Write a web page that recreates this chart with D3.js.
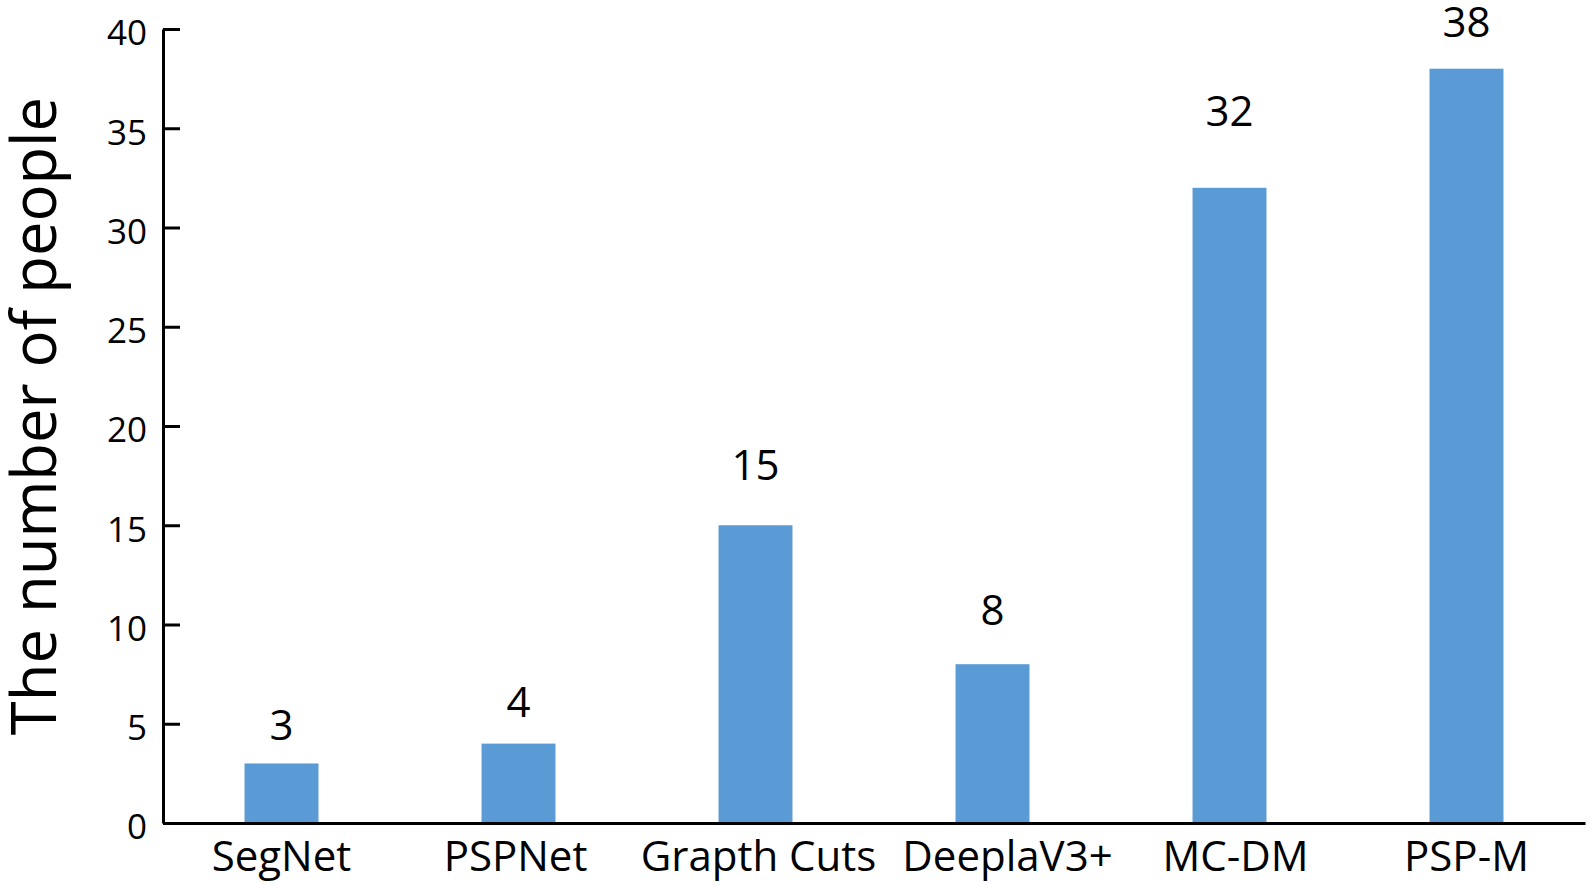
<!DOCTYPE html>
<html>
<head>
<meta charset="utf-8">
<script src="https://cdn.jsdelivr.net/npm/d3@7"></script>
<style>
  html, body { margin: 0; padding: 0; background: #fff; }
  svg { display: block; font-family: 'Open Sans', sans-serif; }
</style>
</head>
<body>
<div id="chart-area"></div>
<script>
// Data
const methods = ['SegNet', 'PSPNet', 'Grapth Cuts', 'DeeplaV3+', 'MC-DM', 'PSP-M'];
const people = [3, 4, 15, 8, 32, 38];
const yTicks = [0, 5, 10, 15, 20, 25, 30, 35, 40];

// value labels sit at uneven heights in the original
const labelGap = [23, 27, 45, 39, 62, 32];
// a couple of category names are a bit off-centre too
const nameShift = [0, -3, 3, 15, 6, 0];

const width = 1594;
const height = 885;
const margin = { top: 29, right: 9, bottom: 62, left: 163 };

const svg = d3.select('#chart-area')
  .append('svg')
  .attr('width', width)
  .attr('height', height);

// Scales
const xScale = d3.scaleBand()
  .domain(methods)
  .range([margin.left, width - margin.right])
  .paddingInner(0.688)
  .paddingOuter(0.344);

const yScale = d3.scaleLinear()
  .domain([0, 40])
  .range([height - margin.bottom, margin.top]);

// Bars
svg.append('g')
  .selectAll('rect')
  .data(people)
  .enter()
  .append('rect')
  .attr('x', (d, i) => xScale(methods[i]))
  .attr('y', (d) => yScale(d))
  .attr('width', xScale.bandwidth())
  .attr('height', (d) => yScale(0) - yScale(d))
  .attr('fill', '#5b9bd5');

// Value labels
svg.append('g')
  .selectAll('text')
  .data(people)
  .enter()
  .append('text')
  .attr('x', (d, i) => xScale(methods[i]) + xScale.bandwidth() / 2)
  .attr('y', (d, i) => yScale(d) - labelGap[i])
  .attr('text-anchor', 'middle')
  .attr('font-size', 42)
  .attr('fill', '#000')
  .text((d) => d);

// Y axis, ticks pointing inward
const yAxis = d3.axisLeft(yScale)
  .tickValues(yTicks)
  .tickSizeInner(-17)
  .tickSizeOuter(0)
  .tickPadding(16);

const gYAxis = svg.append('g')
  .attr('transform', `translate(${margin.left}, 0)`)
  .call(yAxis);

gYAxis.select('.domain').attr('stroke', '#000').attr('stroke-width', 3);
gYAxis.selectAll('.tick line').attr('stroke', '#000').attr('stroke-width', 3);
gYAxis.selectAll('.tick text')
  .attr('font-size', 35)
  .attr('font-family', 'Open Sans, sans-serif')
  .attr('fill', '#000')
  .attr('dy', '0.45em');

// X axis
const xAxis = d3.axisBottom(xScale)
  .tickSize(0)
  .tickPadding(18);

const gXAxis = svg.append('g')
  .attr('transform', `translate(0, ${yScale(0)})`)
  .call(xAxis);

gXAxis.select('.domain').attr('stroke', '#000').attr('stroke-width', 3);
gXAxis.selectAll('.tick text')
  .attr('font-size', 42)
  .attr('font-family', 'Open Sans, sans-serif')
  .attr('fill', '#000')
  .attr('x', (d, i) => nameShift[i]);

// Y label
svg.append('text')
  .attr('transform', 'rotate(-90)')
  .attr('x', -416)
  .attr('y', 56)
  .attr('text-anchor', 'middle')
  .attr('font-size', 61.5)
  .attr('fill', '#000')
  .text('The number of people');
</script>
</body>
</html>
